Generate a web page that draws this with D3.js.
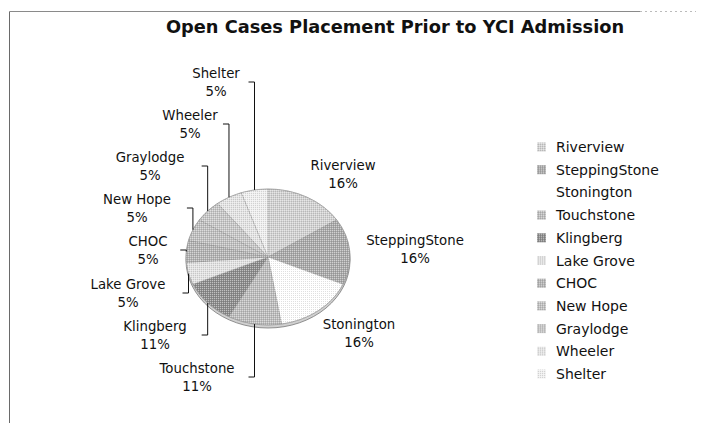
<!DOCTYPE html>
<html>
<head>
<meta charset="utf-8">
<script src="https://cdn.jsdelivr.net/npm/d3@7"></script>
<style>
  body { margin: 0; background: #fff; }
  svg { display: block; font-family: "DejaVu Sans", Verdana, sans-serif; }
</style>
</head>
<body>
<svg id="chart"></svg>
<script>
const width = 703;
const height = 423;

// data
const categories = ["Riverview", "SteppingStone", "Stonington", "Touchstone", "Klingberg",
  "Lake Grove", "CHOC", "New Hope", "Graylodge", "Wheeler", "Shelter"];
const counts = [3, 3, 3, 2, 2, 1, 1, 1, 1, 1, 1];
const sliceFills = ["#d2d2d2", "#a9a9a9", "#ffffff", "#bcbcbc", "#8c8c8c",
  "#e2e2e2", "#b3b3b3", "#bfbfbf", "#c6c6c6", "#e4e4e4", "#efefef"];
const titleText = "Open Cases Placement Prior to YCI Admission";

// label layout (centre of each two-line label)
const labelXY = [[343, 174], [415, 249], [359, 333], [197, 377], [155, 335],
  [128, 293], [148, 250], [137, 208], [150, 166], [190, 124], [216, 82]];

const cx = 268, cy = 257, rx = 82, ry = 68, depth = 3;

const svg = d3.select("#chart")
    .attr("width", width)
    .attr("height", height);

// halftone-ish texture
const defs = svg.append("defs");
const dither = defs.append("pattern")
    .attr("id", "dither")
    .attr("patternUnits", "userSpaceOnUse")
    .attr("width", 2).attr("height", 2);
dither.append("rect").attr("x", 0).attr("y", 0).attr("width", 1).attr("height", 1)
    .attr("fill", "#fff").attr("fill-opacity", 0.45);
dither.append("rect").attr("x", 1).attr("y", 1).attr("width", 1).attr("height", 1)
    .attr("fill", "#000").attr("fill-opacity", 0.12);

// chart frame
svg.append("line")
    .attr("x1", 9.5).attr("x2", 9.5).attr("y1", 11.5).attr("y2", height)
    .attr("stroke", "#6a6a6a");
svg.append("line")
    .attr("x1", 9.5).attr("x2", 640).attr("y1", 11.5).attr("y2", 11.5)
    .attr("stroke", "#8a8a8a");
svg.append("line")
    .attr("x1", 640).attr("x2", 696).attr("y1", 11.5).attr("y2", 11.5)
    .attr("stroke", "#bbb").attr("stroke-dasharray", "2,3");

svg.append("text")
    .attr("x", 395)
    .attr("y", 33)
    .attr("text-anchor", "middle")
    .attr("font-weight", "bold")
    .attr("font-size", 17.8)
    .attr("fill", "#111")
    .text(titleText);

const pie = d3.pie().sort(null).value(d => d);
const arcs = pie(counts);
const total = d3.sum(counts);
const fmt = d3.format(".0%");

// 3d rim
svg.append("ellipse")
    .attr("cx", cx).attr("cy", cy + depth)
    .attr("rx", rx).attr("ry", ry)
    .attr("fill", "#d0d0d0")
    .attr("stroke", "#777")
    .attr("stroke-width", 0.8);

const arc = d3.arc().innerRadius(0).outerRadius(rx);

const pie_g = svg.append("g")
    .attr("transform", `translate(${cx},${cy}) scale(1,${ry / rx})`);

pie_g.selectAll("path")
    .data(arcs)
    .join("path")
    .attr("d", arc)
    .attr("fill", (d, i) => sliceFills[i])
    .attr("stroke", "#9a9a9a")
    .attr("stroke-width", 0.5)
    .attr("vector-effect", "non-scaling-stroke");

svg.append("ellipse")
    .attr("cx", cx).attr("cy", cy)
    .attr("rx", rx).attr("ry", ry)
    .attr("fill", "url(#dither)")
    .attr("stroke", "#999")
    .attr("stroke-width", 0.6);

// data labels
const label_g = svg.append("g")
    .attr("font-size", 13.3)
    .attr("fill", "#111");

arcs.forEach((d, i) => {
    const [lx, ly] = labelXY[i];
    const t = label_g.append("text")
        .attr("text-anchor", "middle")
        .attr("dominant-baseline", "central");
    t.append("tspan").attr("x", lx).attr("y", ly - 9).text(categories[i]);
    t.append("tspan").attr("x", lx).attr("y", ly + 9).text(fmt(d.value / total));

    // leader lines only on the left-hand labels
    if (lx < cx) {
        const mid = (d.startAngle + d.endAngle) / 2;
        const px = cx + rx * Math.sin(mid);
        const py = cy - ry * Math.cos(mid);
        const right = lx + t.node().getBBox().width / 2;
        const elbowX = px > right + 4 ? px : right + 6;
        label_g.append("path")
            .attr("d", d3.line()([[Math.max(right + 2, elbowX - 6), ly], [elbowX, ly], [px, py]]))
            .attr("fill", "none")
            .attr("stroke", "#111")
            .attr("stroke-width", 1);
    }
});

// legend
const legendY = d3.scalePoint()
    .domain(categories)
    .range([147, 374]);

const legend = svg.append("g")
    .attr("font-size", 14)
    .attr("fill", "#111")
    .selectAll("g")
    .data(categories)
    .join("g")
    .attr("transform", d => `translate(537,${legendY(d)})`);

legend.append("rect")
    .attr("x", 0).attr("y", -4.5)
    .attr("width", 9).attr("height", 9)
    .attr("fill", (d, i) => sliceFills[i]);

legend.filter((d, i) => sliceFills[i] !== "#ffffff")
    .append("rect")
    .attr("x", 0).attr("y", -4.5)
    .attr("width", 9).attr("height", 9)
    .attr("fill", "url(#dither)");

legend.append("text")
    .attr("x", 19)
    .attr("dominant-baseline", "central")
    .text(d => d);
</script>
</body>
</html>
